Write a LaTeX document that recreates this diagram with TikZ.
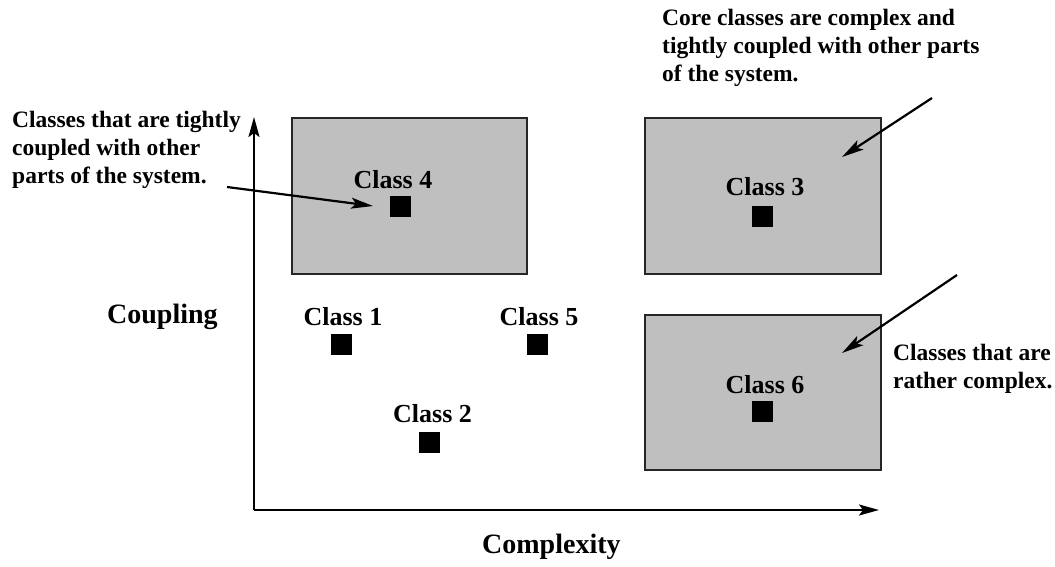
\documentclass[tikz,border=0pt]{standalone}
\usepackage{fontspec}
\setmainfont{Liberation Serif}
\usetikzlibrary{arrows.meta}
\begin{document}
\begin{tikzpicture}[x=1pt,y=-1pt,
  every node/.style={font=\bfseries},
  region/.style={draw=black!85,line width=2.2pt,fill=black!25},
  classbox/.style={fill=black,draw=none,minimum size=21pt,inner sep=0pt},
  classlabel/.style={anchor=base,inner sep=0pt,font=\bfseries\fontsize{26}{30}\selectfont},
  axislabel/.style={anchor=base west,inner sep=0pt,font=\bfseries\fontsize{28}{32}\selectfont},
  note/.style={anchor=north west,inner sep=0pt,align=left,font=\bfseries\fontsize{23.5}{28}\selectfont},
  axis/.style={line width=2.2pt,-{Stealth[length=20pt,width=11pt,inset=4pt]}},
  pointer/.style={line width=2.2pt,-{Stealth[length=22pt,width=11pt,inset=5pt]}}
]
\useasboundingbox (0,0) rectangle (1055,567);

% shaded regions
\path[region] (292,118) rectangle (527,274);
\path[region] (645,118) rectangle (881,274);
\path[region] (645,315) rectangle (881,470);

% axes
\coordinate (origin) at (254,510);
\coordinate (ytip) at (254,117);
\coordinate (xtip) at (879,510);
\draw[axis] (origin) -- (ytip);
\draw[axis] (origin) -- (xtip);
\node[axislabel] (coupling) at (107,323) {Coupling};
\node[axislabel] (complexity) at (482,553) {Complexity};

% classes
\node[classbox] (c4) at (400.5,206.5) {};
\node[classlabel] (l4) at (393,188) {Class 4};
\node[classbox] (c3) at (762.5,216.5) {};
\node[classlabel] (l3) at (765,196) {Class 3};
\node[classbox] (c1) at (341,344) {};
\node[classlabel] (l1) at (343,325) {Class 1};
\node[classbox] (c5) at (537.5,344) {};
\node[classlabel] (l5) at (539,325) {Class 5};
\node[classbox] (c2) at (429.5,442.5) {};
\node[classlabel] (l2) at (432.5,422) {Class 2};
\node[classbox] (c6) at (762.5,411.5) {};
\node[classlabel] (l6) at (765,393) {Class 6};

% annotations
\node[note] (n4) at (12,111) {Classes that are tightly\\coupled with other\\parts of the system.};
\node[note] (n3) at (662,9) {Core classes are complex and\\tightly coupled with other parts\\of the system.};
\node[note] (n6) at (893,344) {Classes that are\\rather complex.};

\coordinate (p4s) at (227,187);
\coordinate (p4e) at (373,206);
\coordinate (p3s) at (932,98);
\coordinate (p3e) at (842,157);
\coordinate (p6s) at (957,275);
\coordinate (p6e) at (842,353);
\draw[pointer] (p4s) -- (p4e);
\draw[pointer] (p3s) -- (p3e);
\draw[pointer] (p6s) -- (p6e);
\end{tikzpicture}
\end{document}
